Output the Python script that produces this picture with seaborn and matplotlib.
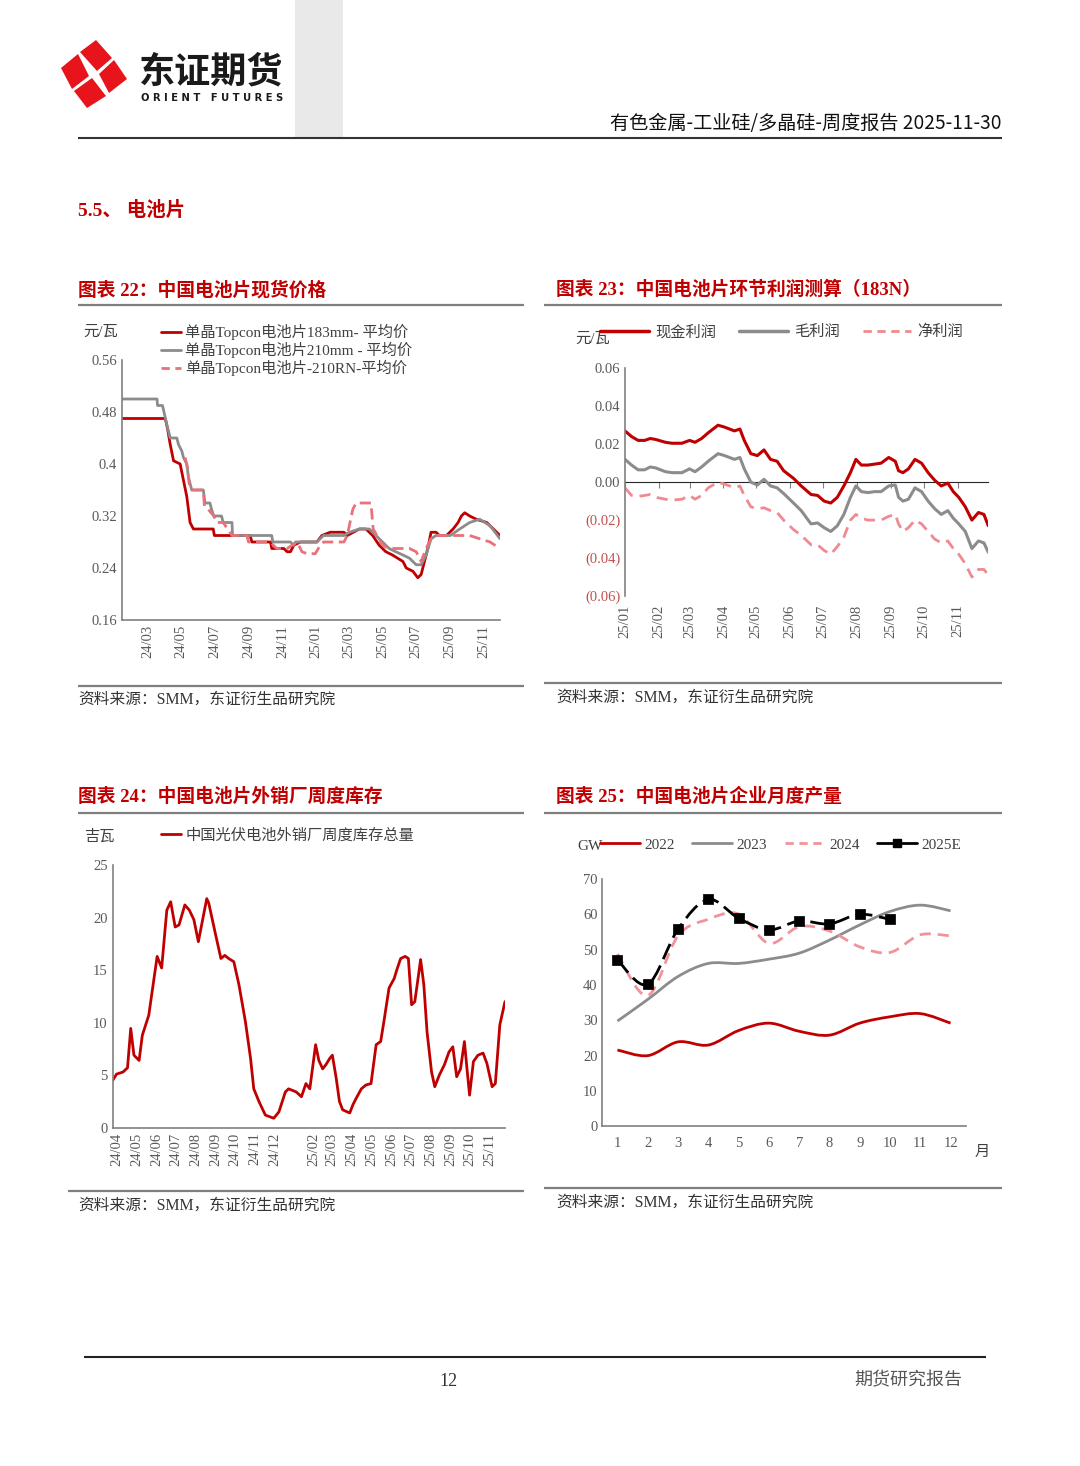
import numpy as np
import pandas as pd
import matplotlib
matplotlib.use("Agg")
import matplotlib.pyplot as plt
import matplotlib.dates as mdates
import seaborn as sns
from matplotlib.lines import Line2D
from matplotlib.patches import Polygon, PathPatch, Rectangle
from matplotlib.path import Path

# ---------------- data ----------------
# chart 22: spot price of cells (yuan/W)
price_183_dates = ['2024-01-14', '2024-04-02', '2024-04-06', '2024-04-11', '2024-04-17', '2024-04-29', '2024-05-05',
                   '2024-05-11', '2024-05-17', '2024-05-23', '2024-06-28', '2024-06-30', '2024-09-03', '2024-09-06',
                   '2024-10-10', '2024-10-12', '2024-11-03', '2024-11-09', '2024-11-15', '2024-11-21', '2024-12-03',
                   '2025-01-02', '2025-01-11', '2025-01-26', '2025-02-20', '2025-02-26', '2025-03-20', '2025-04-01',
                   '2025-04-13', '2025-04-25', '2025-05-07', '2025-05-19', '2025-06-07', '2025-06-13', '2025-06-25',
                   '2025-07-04', '2025-07-10', '2025-07-16', '2025-07-22', '2025-07-28', '2025-08-06', '2025-08-12',
                   '2025-08-25', '2025-09-06', '2025-09-15', '2025-09-21', '2025-09-27', '2025-10-06', '2025-10-18',
                   '2025-11-06', '2025-11-18', '2025-11-30']
price_183 = [0.47, 0.47, 0.455, 0.43, 0.405, 0.40, 0.375, 0.35, 0.31, 0.30, 0.30, 0.29, 0.29, 0.28, 0.28, 0.27,
             0.27, 0.265, 0.265, 0.275, 0.28, 0.28, 0.29, 0.295, 0.295, 0.29, 0.30, 0.30, 0.29, 0.275, 0.265, 0.26,
             0.25, 0.24, 0.235, 0.225, 0.23, 0.25, 0.27, 0.295, 0.295, 0.29, 0.29, 0.30, 0.31, 0.32, 0.325, 0.32,
             0.315, 0.31, 0.30, 0.29]

price_210_dates = ['2024-01-14', '2024-03-18', '2024-03-19', '2024-03-28', '2024-04-05', '2024-04-11', '2024-04-23',
                   '2024-04-26', '2024-05-02', '2024-05-05', '2024-05-11', '2024-05-14', '2024-05-20', '2024-06-10',
                   '2024-06-13', '2024-06-22', '2024-06-25', '2024-06-29', '2024-07-13', '2024-07-16', '2024-08-01',
                   '2024-08-02', '2024-10-12', '2024-10-14', '2024-11-15', '2024-11-21', '2024-11-24', '2025-01-02',
                   '2025-01-08', '2025-01-14', '2025-02-20', '2025-03-02', '2025-03-20', '2025-04-07', '2025-04-19',
                   '2025-05-01', '2025-05-13', '2025-05-25', '2025-06-07', '2025-06-19', '2025-07-01', '2025-07-10',
                   '2025-07-19', '2025-07-28', '2025-08-06', '2025-09-01', '2025-09-18', '2025-10-06', '2025-10-24',
                   '2025-11-12', '2025-11-30']
price_210 = [0.50, 0.50, 0.49, 0.49, 0.46, 0.44, 0.44, 0.43, 0.42, 0.41, 0.40, 0.38, 0.36, 0.36, 0.34, 0.34,
             0.33, 0.32, 0.32, 0.31, 0.31, 0.29, 0.29, 0.28, 0.28, 0.275, 0.28, 0.28, 0.285, 0.29, 0.29, 0.295,
             0.30, 0.30, 0.29, 0.28, 0.27, 0.265, 0.26, 0.255, 0.245, 0.245, 0.26, 0.285, 0.29, 0.29, 0.30, 0.31,
             0.315, 0.305, 0.285]

price_210rn_dates = ['2024-05-08', '2024-05-12', '2024-05-16', '2024-05-20', '2024-06-10', '2024-06-12', '2024-06-19',
                     '2024-06-29', '2024-07-04', '2024-07-16', '2024-08-01', '2024-08-28', '2024-08-31', '2024-10-09',
                     '2024-10-21', '2024-11-09', '2024-11-27', '2024-12-06', '2024-12-15', '2024-12-30', '2025-01-08',
                     '2025-01-14', '2025-02-20', '2025-02-26', '2025-03-08', '2025-03-14', '2025-04-10', '2025-04-14',
                     '2025-05-01', '2025-05-13', '2025-06-19', '2025-07-01', '2025-07-10', '2025-07-19', '2025-07-28',
                     '2025-08-06', '2025-10-06', '2025-10-24', '2025-11-12', '2025-11-30']
price_210rn = [0.41, 0.395, 0.365, 0.36, 0.36, 0.335, 0.33, 0.32, 0.31, 0.31, 0.29, 0.29, 0.28, 0.28, 0.27, 0.27,
               0.28, 0.265, 0.262, 0.262, 0.275, 0.28, 0.28, 0.29, 0.33, 0.34, 0.34, 0.30, 0.275, 0.27, 0.27, 0.265,
               0.25, 0.27, 0.285, 0.29, 0.29, 0.285, 0.28, 0.27]

price_ticks = ['2024-03-01', '2024-05-01', '2024-07-01', '2024-09-01', '2024-11-01', '2025-01-01',
               '2025-03-01', '2025-05-01', '2025-07-01', '2025-09-01', '2025-11-01']
price_tick_labels = ['24/03', '24/05', '24/07', '24/09', '24/11', '25/01', '25/03', '25/05', '25/07', '25/09', '25/11']
price_yticks = [0.16, 0.24, 0.32, 0.40, 0.48, 0.56]
price_ytick_labels = ['0.16', '0.24', '0.32', '0.4', '0.48', '0.56']

# chart 23: profit by link (yuan/W)
profit_dates = ['2025-01-01', '2025-01-07', '2025-01-13', '2025-01-19', '2025-01-24', '2025-01-29',
                '2025-02-07', '2025-02-13', '2025-02-22',
                '2025-03-01', '2025-03-06', '2025-03-12', '2025-03-18', '2025-03-27',
                '2025-04-02', '2025-04-11', '2025-04-16', '2025-04-20', '2025-04-26',
                '2025-05-02', '2025-05-08', '2025-05-14', '2025-05-20', '2025-05-26',
                '2025-06-04', '2025-06-11', '2025-06-20', '2025-06-26',
                '2025-07-02', '2025-07-08', '2025-07-14', '2025-07-20', '2025-07-26', '2025-07-31',
                '2025-08-05', '2025-08-11', '2025-08-17', '2025-08-23', '2025-08-30',
                '2025-09-05', '2025-09-08', '2025-09-12', '2025-09-17', '2025-09-23', '2025-09-29',
                '2025-10-05', '2025-10-11', '2025-10-17', '2025-10-23', '2025-10-28',
                '2025-11-02', '2025-11-08', '2025-11-14', '2025-11-20', '2025-11-25', '2025-11-29']
cash_profit = [0.027, 0.024, 0.022, 0.022, 0.023, 0.0225,
               0.021, 0.0205, 0.0205,
               0.022, 0.021, 0.023, 0.026, 0.030,
               0.029, 0.027, 0.028, 0.022, 0.015,
               0.014, 0.017, 0.012, 0.011, 0.006,
               0.002, -0.002, -0.0065, -0.007,
               -0.010, -0.011, -0.008, -0.002, 0.005, 0.012,
               0.009, 0.009, 0.0095, 0.010, 0.013,
               0.011, 0.006, 0.005, 0.007, 0.012, 0.010,
               0.005, 0.001, -0.002, -0.0005, -0.005,
               -0.008, -0.013, -0.020, -0.016, -0.017, -0.023]
gross_profit = [0.012, 0.009, 0.0065, 0.0065, 0.008, 0.0075,
                0.0055, 0.005, 0.005,
                0.007, 0.0055, 0.008, 0.011, 0.015,
                0.014, 0.012, 0.013, 0.007, 0.000,
                -0.0015, 0.0015, -0.002, -0.003, -0.006,
                -0.011, -0.015, -0.022, -0.0215,
                -0.024, -0.026, -0.023, -0.017, -0.008, -0.002,
                -0.005, -0.0055, -0.005, -0.005, -0.002,
                -0.0015, -0.008, -0.010, -0.009, -0.003, -0.005,
                -0.010, -0.014, -0.017, -0.015, -0.019,
                -0.022, -0.026, -0.035, -0.031, -0.032, -0.037]
net_profit = [-0.003, -0.007, -0.0075, -0.007, -0.0065, -0.008,
              -0.009, -0.0095, -0.009,
              -0.007, -0.009, -0.007, -0.003, 0.000,
              -0.001, -0.003, -0.002, -0.007, -0.013,
              -0.014, -0.0135, -0.015, -0.016, -0.020,
              -0.025, -0.028, -0.033, -0.033,
              -0.036, -0.038, -0.034, -0.029, -0.020, -0.017,
              -0.019, -0.020, -0.020, -0.020, -0.018,
              -0.017, -0.022, -0.026, -0.024, -0.020, -0.022,
              -0.026, -0.030, -0.032, -0.031, -0.035,
              -0.038, -0.043, -0.050, -0.046, -0.046, -0.049]
profit_ticks = ['2025-01-01', '2025-02-01', '2025-03-01', '2025-04-01', '2025-05-01', '2025-06-01',
                '2025-07-01', '2025-08-01', '2025-09-01', '2025-10-01', '2025-11-01']
profit_tick_labels = ['25/01', '25/02', '25/03', '25/04', '25/05', '25/06', '25/07', '25/08', '25/09', '25/10', '25/11']
profit_yticks = [-0.06, -0.04, -0.02, 0.0, 0.02, 0.04, 0.06]
profit_ytick_labels = ['(0.06)', '(0.04)', '(0.02)', '0.00', '0.02', '0.04', '0.06']

# chart 24: weekly inventory of merchant cell makers (GW)
stock_dates = ['2024-03-25', '2024-03-31', '2024-04-10', '2024-04-17', '2024-04-22', '2024-04-27', '2024-05-05',
               '2024-05-10', '2024-05-20', '2024-06-02', '2024-06-09', '2024-06-17', '2024-06-23', '2024-06-30',
               '2024-07-06', '2024-07-15', '2024-07-22', '2024-07-29', '2024-08-05', '2024-08-11', '2024-08-18',
               '2024-08-21', '2024-09-01', '2024-09-09', '2024-09-15', '2024-09-21', '2024-09-29', '2024-10-07',
               '2024-10-17', '2024-10-25', '2024-10-30', '2024-11-07', '2024-11-17', '2024-11-30', '2024-12-08',
               '2024-12-18', '2024-12-23', '2025-01-04', '2025-01-12', '2025-01-19', '2025-01-25', '2025-02-03',
               '2025-02-08', '2025-02-14', '2025-02-19', '2025-02-25', '2025-03-01', '2025-03-07', '2025-03-12',
               '2025-03-17', '2025-03-28', '2025-04-02', '2025-04-07', '2025-04-15', '2025-04-22', '2025-04-30',
               '2025-05-08', '2025-05-15', '2025-05-20', '2025-05-28', '2025-06-05', '2025-06-10', '2025-06-15',
               '2025-06-22', '2025-06-27', '2025-07-02', '2025-07-07', '2025-07-12', '2025-07-16', '2025-07-21',
               '2025-07-26', '2025-08-02', '2025-08-07', '2025-08-14', '2025-08-22', '2025-08-29', '2025-09-04',
               '2025-09-10', '2025-09-16', '2025-09-22', '2025-09-26', '2025-09-30', '2025-10-06', '2025-10-13',
               '2025-10-21', '2025-10-27', '2025-11-04', '2025-11-09', '2025-11-16', '2025-11-24']
stock_gw = [4.5, 5.1, 5.3, 5.7, 9.45, 6.9, 6.4, 8.8, 10.7, 16.3, 15.2, 20.7, 21.5, 19.1, 19.3, 21.2, 20.7, 19.8,
            17.7, 19.6, 21.8, 21.4, 18.3, 16.1, 16.4, 16.1, 15.8, 13.6, 10.1, 6.6, 3.7, 2.5, 1.2, 0.9, 1.5, 3.4,
            3.7, 3.4, 2.95, 4.2, 3.7, 7.9, 6.4, 5.6, 6.0, 6.6, 6.9, 4.7, 2.5, 1.7, 1.4, 2.2, 2.8, 3.7, 4.06, 4.2,
            7.9, 8.2, 10.1, 13.3, 14.2, 15.2, 16.1, 16.3, 16.1, 11.7, 12.0, 14.2, 16.0, 13.6, 9.1, 5.3, 3.9, 5.0,
            6.0, 7.2, 7.7, 4.85, 5.6, 8.2, 5.6, 3.1, 6.3, 6.9, 7.1, 6.1, 3.9, 4.2, 9.8, 12.0]
stock_ticks = ['2024-04-01', '2024-05-01', '2024-06-01', '2024-07-01', '2024-08-01', '2024-09-01', '2024-10-01',
               '2024-11-01', '2024-12-01', '2025-02-01', '2025-03-01', '2025-04-01', '2025-05-01', '2025-06-01',
               '2025-07-01', '2025-08-01', '2025-09-01', '2025-10-01', '2025-11-01']
stock_tick_labels = ['24/04', '24/05', '24/06', '24/07', '24/08', '24/09', '24/10', '24/11', '24/12',
                     '25/02', '25/03', '25/04', '25/05', '25/06', '25/07', '25/08', '25/09', '25/10', '25/11']

# chart 25: monthly output (GW)
months = [1, 2, 3, 4, 5, 6, 7, 8, 9, 10, 11, 12]
output_2022 = [21.6, 20.0, 23.9, 23.0, 27.1, 29.2, 26.9, 25.8, 29.2, 31.0, 31.9, 29.2]
output_2023 = [29.8, 35.9, 42.4, 46.1, 46.1, 47.3, 49.0, 52.7, 57.0, 60.8, 62.6, 61.0]
output_2024 = [48.8, 37.0, 53.9, 58.6, 60.1, 51.8, 56.5, 55.3, 50.8, 49.2, 54.2, 53.9]
output_2025e = [47.1, 40.2, 55.8, 64.2, 58.9, 55.6, 58.1, 57.3, 60.0, 58.6]

# ---------------- style ----------------
sns.set_style("white")
plt.rcParams['font.family'] = ['Liberation Serif', 'Noto Sans CJK SC', 'DejaVu Sans']
plt.rcParams['axes.unicode_minus'] = False

RED = '#C00000'
GREY = '#8C8C8C'
PINK = '#E8717B'
TXT = '#595959'
SPINE = '#808080'
SANS = ['Noto Sans CJK SC', 'DejaVu Sans']

W, H = 1080, 1466
fig = plt.figure(figsize=(W / 100, H / 100), dpi=100)
page = fig.add_axes([0, 0, 1, 1])
page.set_xlim(0, W)
page.set_ylim(H, 0)
page.axis('off')


def box(x0, y0, x1, y1):
    return [x0 / W, 1 - y1 / H, (x1 - x0) / W, (y1 - y0) / H]


def rule(y, x0, x1, color='#7f7f7f', lw=1.6):
    page.plot([x0, x1], [y, y], color=color, lw=lw, solid_capstyle='butt')


def style(ax):
    ax.set_facecolor('none')
    sns.despine(ax=ax)
    for s in ['left', 'bottom']:
        ax.spines[s].set_color(SPINE)
        ax.spines[s].set_linewidth(1.2)
    ax.tick_params(colors=SPINE, labelcolor=TXT, labelsize=10.5, direction='in', length=4, width=1)
    ax.set_xlabel('')
    ax.set_ylabel('')


def smooth_path(xs, ys):
    pts = np.column_stack([xs, ys]).astype(float)
    n = len(pts)
    verts, codes = [pts[0]], [Path.MOVETO]
    for i in range(n - 1):
        p0, p1, p2, p3 = pts[max(i - 1, 0)], pts[i], pts[i + 1], pts[min(i + 2, n - 1)]
        verts += [p1 + (p2 - p0) / 6, p2 - (p3 - p1) / 6, p2]
        codes += [Path.CURVE4] * 3
    return Path(verts, codes)


# ---------------- page decoration ----------------
page.add_patch(Rectangle((295, 0), 48, 138, color='#e9e9e9', lw=0))
# logo: four red lobes around a white star
for quad in [[(96, 40), (112, 58), (97, 71), (80, 52)], [(114, 60), (127, 79), (109, 93), (99, 74)],
             [(106, 96), (87, 108), (74, 91), (92, 78)], [(72, 89), (61, 68), (78, 54), (89, 76)]]:
    page.add_patch(Polygon(quad, closed=True, color='#E8141B', lw=0, joinstyle='round'))
page.text(139, 72, '东证期货', fontsize=26, fontweight='heavy', family=SANS, color='#1a1a1a', va='center', ha='left')
page.text(141, 98, 'O R I E N T   F U T U R E S', fontsize=7.2, fontweight='bold', family=['DejaVu Sans'],
          color='#1a1a1a', va='center', ha='left')
page.text(1002, 124, '有色金属-工业硅/多晶硅-周度报告 2025-11-30', fontsize=13.8, family=SANS,
          color='#111111', va='center', ha='right')
rule(138, 78, 1002, color='#333333', lw=1.5)
page.text(78, 210, '5.5、 电池片', fontsize=14, fontweight='bold', color=RED, va='center', ha='left')

TSIZE = 13.5
page.text(78, 290, '图表 22：中国电池片现货价格', fontsize=TSIZE, fontweight='bold', color=RED, va='center')
page.text(556, 290, '图表 23：中国电池片环节利润测算（183N）', fontsize=TSIZE, fontweight='bold', color=RED, va='center')
page.text(78, 797, '图表 24：中国电池片外销厂周度库存', fontsize=TSIZE, fontweight='bold', color=RED, va='center')
page.text(556, 797, '图表 25：中国电池片企业月度产量', fontsize=TSIZE, fontweight='bold', color=RED, va='center')
rule(305, 78, 524)
rule(305, 544, 1002)
rule(813, 78, 524)
rule(813, 544, 1002)
rule(686, 78, 524)
rule(683, 544, 1002)
rule(1191, 68, 524)
rule(1188, 544, 1002)
src = '资料来源：SMM，东证衍生品研究院'
for sx, sy in [(78, 700), (556, 698), (78, 1206), (556, 1203)]:
    page.text(sx, sy, src, fontsize=11.3, color='#333333', va='center')

rule(1357, 84, 986, color='#222222', lw=1.5)
page.text(448, 1381, '12', fontsize=13, color='#333333', va='center', ha='center')
page.text(962, 1381, '期货研究报告', fontsize=13, color='#555555', va='center', ha='right')

d = pd.to_datetime
LEG = 11

# ---------------- chart 22 ----------------
ax1 = fig.add_axes(box(121.7, 360, 500, 620))
sns.lineplot(x=d(price_183_dates), y=price_183, ax=ax1, color=RED, linewidth=2)
sns.lineplot(x=d(price_210_dates), y=price_210, ax=ax1, color=GREY, linewidth=2)
sns.lineplot(x=d(price_210rn_dates), y=price_210rn, ax=ax1, color=PINK, linewidth=2, linestyle=(0, (4, 2)))
style(ax1)
ax1.set_xlim(d('2024-01-14'), d('2025-11-30'))
ax1.set_ylim(0.16, 0.56)
ax1.set_yticks(price_yticks)
ax1.set_yticklabels(price_ytick_labels)
ax1.set_xticks(d(price_ticks))
ax1.set_xticklabels(price_tick_labels, rotation=90)
h22 = [Line2D([], [], color=RED, lw=2), Line2D([], [], color=GREY, lw=2),
       Line2D([], [], color=PINK, lw=2, ls=(0, (3, 2)))]
ax1.legend(h22, ['单晶Topcon电池片183mm- 平均价', '单晶Topcon电池片210mm - 平均价', '单晶Topcon电池片-210RN-平均价'],
           loc='upper left', bbox_to_anchor=(161 / W, 1 - 324 / H), bbox_transform=fig.transFigure,
           frameon=False, borderpad=0, borderaxespad=0, handlelength=1.3, handletextpad=0.3,
           labelspacing=0.12, fontsize=LEG, labelcolor='#404040')
page.text(83, 332, '元/瓦', fontsize=LEG, color='#404040', va='center')

# ---------------- chart 23 ----------------
ax2 = fig.add_axes(box(625, 368.3, 988.3, 596))
sns.lineplot(x=d(profit_dates), y=cash_profit, ax=ax2, color=RED, linewidth=2.2)
sns.lineplot(x=d(profit_dates), y=gross_profit, ax=ax2, color=GREY, linewidth=2.2)
sns.lineplot(x=d(profit_dates), y=net_profit, ax=ax2, color='#F08A92', linewidth=2, linestyle=(0, (4, 2.5)))
style(ax2)
ax2.spines['bottom'].set_visible(False)
ax2.set_xlim(d('2025-01-01'), d('2025-11-29'))
ax2.set_ylim(-0.06, 0.06)
ax2.set_yticks(profit_yticks)
ax2.set_yticklabels(profit_ytick_labels)
for lbl, v in zip(ax2.get_yticklabels(), profit_yticks):
    lbl.set_color('#C0504D' if v < 0 else TXT)
ax2.set_xticks(d(profit_ticks))
ax2.set_xticklabels(profit_tick_labels, rotation=90)
ax2.tick_params(axis='x', length=0, pad=6)
zero = ax2.secondary_xaxis(0.5)
zero.set_xticks(mdates.date2num(d(profit_ticks)))
zero.set_xticklabels([])
zero.tick_params(direction='in', length=4, labelbottom=False, labeltop=False, colors=SPINE)
zero.spines['bottom'].set_color(SPINE)
zero.spines['bottom'].set_linewidth(1.2)
h23 = [Line2D([], [], color=RED, lw=2.5), Line2D([], [], color=GREY, lw=2.5),
       Line2D([], [], color='#F08A92', lw=2, ls=(0, (3, 2)))]
ax2.legend(h23, ['现金利润', '毛利润', '净利润'], ncol=3, loc='upper left',
           bbox_to_anchor=(600 / W, 1 - 325 / H), bbox_transform=fig.transFigure,
           frameon=False, borderpad=0, borderaxespad=0, handlelength=3.2, handletextpad=0.4,
           columnspacing=1.5, fontsize=LEG, labelcolor='#404040')
page.text(575, 339, '元/瓦', fontsize=LEG, color='#404040', va='center')

# ---------------- chart 24 ----------------
ax3 = fig.add_axes(box(112.7, 865, 505, 1127.7))
sns.lineplot(x=d(stock_dates), y=stock_gw, ax=ax3, color=RED, linewidth=2)
style(ax3)
ax3.set_xlim(d(stock_dates[0]), d(stock_dates[-1]))
ax3.set_ylim(0, 25)
ax3.set_yticks([0, 5, 10, 15, 20, 25])
ax3.set_xticks(d(stock_ticks))
ax3.set_xticklabels(stock_tick_labels, rotation=90)
ax3.legend([Line2D([], [], color=RED, lw=2)], ['中国光伏电池外销厂周度库存总量'], loc='upper left',
           bbox_to_anchor=(161 / W, 1 - 828 / H), bbox_transform=fig.transFigure,
           frameon=False, borderpad=0, borderaxespad=0, handlelength=1.3, handletextpad=0.3,
           fontsize=LEG, labelcolor='#404040')
page.text(84, 837, '吉瓦', fontsize=LEG, color='#404040', va='center')

# ---------------- chart 25 ----------------
ax4 = fig.add_axes(box(602.3, 879, 965.7, 1126.3))
ax4.add_patch(PathPatch(smooth_path(months, output_2022), fill=False, edgecolor=RED, lw=2))
ax4.add_patch(PathPatch(smooth_path(months, output_2023), fill=False, edgecolor=GREY, lw=2))
ax4.add_patch(PathPatch(smooth_path(months, output_2024), fill=False, edgecolor='#F0939A', lw=2,
                        linestyle=(0, (4, 2.5))))
ax4.add_patch(PathPatch(smooth_path(months[:len(output_2025e)], output_2025e), fill=False, edgecolor='black',
                        lw=2, linestyle=(0, (6, 2.5))))
sns.scatterplot(x=months[:len(output_2025e)], y=output_2025e, ax=ax4, marker='s', color='black', s=42,
                edgecolor='black', zorder=5)
style(ax4)
ax4.set_xlim(0.5, 12.5)
ax4.set_ylim(0, 70)
ax4.set_yticks(range(0, 71, 10))
ax4.set_xticks(months)
ax4.set_xticklabels([str(m) for m in months])
ax4.set_xticks(np.arange(0.5, 13, 1), minor=True)
ax4.tick_params(axis='x', which='major', length=0, pad=8)
ax4.tick_params(axis='x', which='minor', direction='in', length=4, color=SPINE)
h25 = [Line2D([], [], color=RED, lw=2), Line2D([], [], color=GREY, lw=2),
       Line2D([], [], color='#F0939A', lw=2, ls=(0, (3, 2))),
       Line2D([], [], color='black', lw=2, marker='s', markersize=6)]
ax4.legend(h25, ['2022', '2023', '2024', '2025E'], ncol=4, loc='upper left',
           bbox_to_anchor=(600 / W, 1 - 838 / H), bbox_transform=fig.transFigure,
           frameon=False, borderpad=0, borderaxespad=0, handlelength=2.6, handletextpad=0.3,
           columnspacing=1.15, fontsize=LEG, labelcolor='#404040')
page.text(577, 847, 'GW', fontsize=LEG, color='#404040', va='center')
page.text(982, 1152, '月', fontsize=LEG, color='#404040', va='center', ha='center')

fig.savefig('out.png', dpi=100)
